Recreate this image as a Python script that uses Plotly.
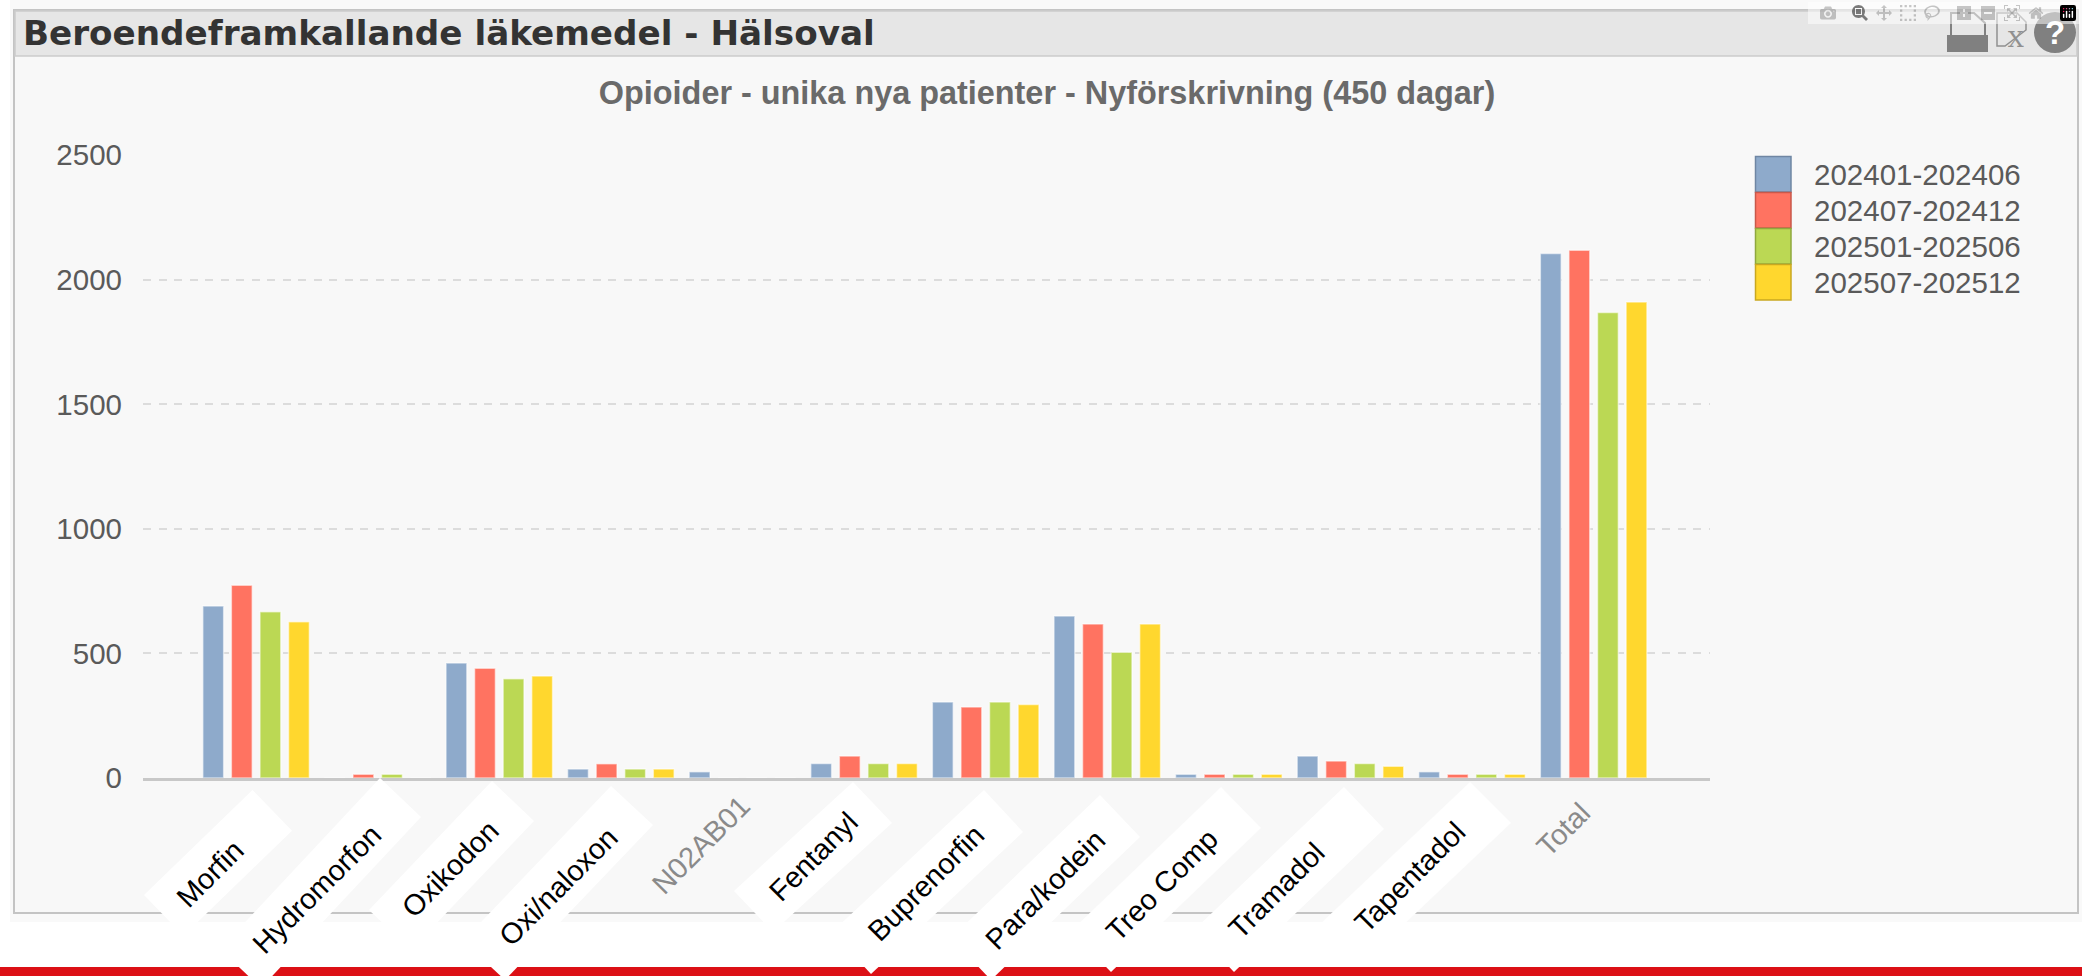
import plotly.graph_objects as go

W, H = 2082, 976
PLOT_L, PLOT_R, PLOT_T, PLOT_B = 143, 1710, 155, 778

CATEGORIES = ["Morfin", "Hydromorfon", "Oxikodon", "Oxi/naloxon", "N02AB01", "Fentanyl",
              "Buprenorfin", "Para/kodein", "Treo Comp", "Tramadol", "Tapentadol", "Total"]
SERIES_NAMES = ["202401-202406", "202407-202412", "202501-202506", "202507-202512"]
S1 = [690, 0, 461, 36, 25, 58, 305, 650, 15, 88, 25, 2105]
S2 = [773, 15, 440, 57, 0, 88, 285, 618, 15, 68, 15, 2118]
S3 = [667, 15, 398, 36, 0, 58, 305, 505, 15, 58, 15, 1868]
S4 = [627, 0, 409, 36, 0, 58, 295, 618, 15, 47, 15, 1910]
VALUES = [S1, S2, S3, S4]
COLORS = ["#8eaacb", "#ff7361", "#bbd854", "#ffd72e"]
BORDERS = ["#6f86a3", "#c9584a", "#8fa83e", "#c9a820"]

TITLE = "Opioider - unika nya patienter - Nyförskrivning (450 dagar)"
HEADER = "Beroendeframkallande läkemedel - Hälsoval"
YTICKS = [0, 500, 1000, 1500, 2000, 2500]

# --- page furniture, in screen pixels, mapped to plot-area fractions ---
def fx(x): return (x - PLOT_L) / (PLOT_R - PLOT_L)
def fy(y): return (PLOT_B - y) / (PLOT_B - PLOT_T)
def poly(pts):
    return "M " + " L ".join(f"{fx(x):.5f},{fy(y):.5f}" for x, y in pts) + " Z"
def rect(x0, y0, x1, y1, fill, line=None, lw=0, layer="below"):
    return dict(type="rect", xref="paper", yref="paper", x0=fx(x0), x1=fx(x1), y0=fy(y0), y1=fy(y1),
                fillcolor=fill, line=dict(color=line or fill, width=lw), layer=layer)

LABEL_POS = [(210, 874), (317, 889), (450, 869), (558, 887), (701, 845), (813, 857),
             (926, 883), (1045, 890), (1162, 885), (1276, 891), (1410, 877), (1563, 830)]
GREY_LABELS = {"N02AB01", "Total"}
# corners: apex, right, bottom of each white tilted box
BOXES = [((252.5, 790), (292, 830.7), (183.5, 935.7)),
         ((380, 778), (421, 817), (261, 988)),
         ((492, 781), (534, 821), (411, 950)),
         ((611, 786), (653, 825), (505, 980)),
         ((853, 782), (892, 823), (773, 932)),
         ((984, 790), (1023, 832), (871, 974)),
         ((1100, 795), (1140, 837), (991, 980)),
         ((1221, 787), (1261, 828), (1111, 972)),
         ((1344, 787), (1384, 829), (1234, 972)),
         ((1470, 782), (1511, 823), (1360, 966))]

shapes = [
    rect(10, 0, W, 922, "#f9f9f9"),
    rect(14, 10, 2078, 913, "#f8f8f8", "#c4c4c4", 2),
    rect(15, 11, 2077, 56, "#e6e6e6", "#cccccc", 1.5),
    rect(0, 967, W, 976, "#dc1016", layer="above"),
]
for a, r, b in BOXES:
    l = (a[0] + b[0] - r[0], a[1] + b[1] - r[1])
    shapes.append(dict(type="path", xref="paper", yref="paper", path=poly([a, r, b, l]),
                       fillcolor="white", line=dict(width=0), layer="above"))

# legend swatches
for i, (c, bc) in enumerate(zip(COLORS, BORDERS)):
    shapes.append(rect(1755.5, 156.5 + 36 * i, 1791, 192 + 36 * i, c, bc, 1.5))

# toolbar icons
ICON = "#808080"
shapes += [
    dict(type="path", xref="paper", yref="paper", line=dict(color=ICON, width=2), fillcolor="rgba(0,0,0,0)",
         path=poly([(1951, 36), (1951, 13), (1974, 13), (1985, 23), (1985, 36)])),
    dict(type="path", xref="paper", yref="paper", line=dict(width=0), fillcolor=ICON,
         path=poly([(1947, 35), (1988, 35), (1988, 52), (1947, 52)])),
    dict(type="path", xref="paper", yref="paper", line=dict(color="#909090", width=1.5), fillcolor="rgba(0,0,0,0)",
         path=poly([(2005, 46), (1997, 46), (1997, 13), (2017, 13), (2026, 22), (2026, 30)])),
    dict(type="circle", xref="paper", yref="paper", x0=fx(2034), x1=fx(2076), y0=fy(12), y1=fy(53),
         fillcolor=ICON, line=dict(width=0), layer="above"),
]

annotations = []
def text(x, y, s, size, color, family="Liberation Sans", anchor="center", angle=0):
    annotations.append(dict(x=fx(x), y=fy(y), xref="paper", yref="paper", text=s, showarrow=False,
                            xanchor=anchor, yanchor="middle", textangle=angle,
                            font=dict(family=family, size=size, color=color)))

text(21, 33, f"<b>{HEADER}</b>", 34.2, "#333333", "DejaVu Sans", "left")
text(2055, 32, "<b>?</b>", 33, "white")
text(2016, 39, "X", 22, "#909090", "DejaVu Serif")
for i, name in enumerate(SERIES_NAMES):
    text(1812, 174 + 36 * i, name, 29.5, "#5a5a5a", anchor="left")
for cat, (x, y) in zip(CATEGORIES, LABEL_POS):
    grey = cat in GREY_LABELS
    text(x, y, cat, 29, "#8a8a8a" if grey else "#000000", angle=-45)

fig = go.Figure()
for name, vals, col in zip(SERIES_NAMES, VALUES, COLORS):
    fig.add_trace(go.Bar(x=list(range(len(CATEGORIES))), y=vals, name=name,
                         marker=dict(color=col, line=dict(color="rgba(255,255,255,0.55)", width=1.5)),
                         hovertext=CATEGORIES))

fig.update_layout(
    width=W, height=H, autosize=False, showlegend=False,
    margin=dict(l=PLOT_L, r=W - PLOT_R, t=PLOT_T, b=H - PLOT_B, pad=0),
    paper_bgcolor="white", plot_bgcolor="rgba(0,0,0,0)",
    barmode="group", bargap=0.06, bargroupgap=0.27,
    title=dict(text=f"<b>{TITLE}</b>", x=1047 / W, xref="container", xanchor="center",
               y=1 - 93 / H, yref="container", yanchor="middle",
               font=dict(family="Liberation Sans", size=32.4, color="#6a6a6a")),
    shapes=shapes, annotations=annotations,
    xaxis=dict(range=[-0.93, 11.957], tickmode="array", tickvals=list(range(len(CATEGORIES))),
               showticklabels=False, ticks="", showgrid=False, zeroline=False,
               showline=True, linecolor="#c8c8c8", linewidth=2.5),
    yaxis=dict(range=[0, 2500], tickmode="array", tickvals=YTICKS, ticks="",
               ticklabelstandoff=20, showline=False, zeroline=False,
               gridcolor="#dcdcdc", gridwidth=2, griddash="8px,7.5px",
               tickfont=dict(family="Liberation Sans", size=29.5, color="#5a5a5a")),
)
fig.write_html("out.html", post_script="document.body.style.margin='0';document.body.style.overflow='hidden';")
